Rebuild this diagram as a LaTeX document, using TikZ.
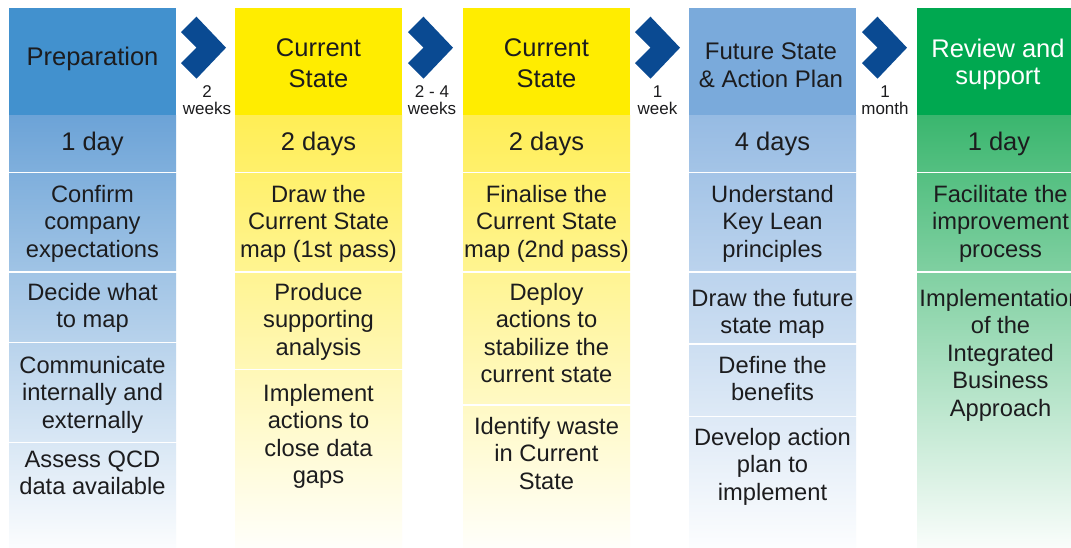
\documentclass[tikz,border=0pt]{standalone}
\usepackage{fontspec}
\setmainfont{Liberation Sans}
\definecolor{hdrblue}{RGB}{66,145,206}
\definecolor{bodyblue}{RGB}{108,163,215}
\definecolor{hdryellow}{RGB}{255,237,0}
\definecolor{bodyyellow}{RGB}{255,238,85}
\definecolor{hdrlblue}{RGB}{122,170,219}
\definecolor{bodylblue}{RGB}{150,187,227}
\definecolor{hdrgreen}{RGB}{0,168,80}
\definecolor{bodygreen}{RGB}{58,182,110}
\definecolor{chevblue}{RGB}{10,74,146}
\definecolor{ink}{RGB}{28,28,30}
% #1 name, #2 left x, #3 top y, #4 bottom y, #5 base colour
\newcommand{\gradcell}[5]{%
  \pgfmathtruncatemacro{\cellmixA}{3+0.225058*(547-#3)}%
  \pgfmathtruncatemacro{\cellmixB}{3+0.225058*(547-#4)}%
  \node[cellbox, minimum height={(#4-#3)*1pt},
        top color=#5!\cellmixA!white, bottom color=#5!\cellmixB!white]
        (#1) at ({#2+83.5},{(#3+#4)/2}) {};%
}
% #1 name, #2 left x, #3 colour
\newcommand{\hdrcell}[3]{%
  \node[cellbox, minimum height=107.5pt, fill=#3] (#1) at ({#2+83.5},61.75) {};%
}
\begin{document}
\begin{tikzpicture}[x=1pt,y=-1pt,
  cellbox/.style={rectangle, inner sep=0pt, outer sep=0pt, minimum width=167pt, draw=none},
  hdrtext/.style={inner sep=0pt, align=center, text=ink, font=\fontsize{25.5}{30.5}\selectfont},
  durtext/.style={inner sep=0pt, text=ink, font=\fontsize{25.5}{30}\selectfont, anchor=base},
  bodytext/.style={inner sep=0pt, align=center, text=ink, font=\fontsize{23.7}{27.5}\selectfont, anchor=north},
  gaptext/.style={inner sep=0pt, align=center, text=ink, font=\fontsize{17}{16.5}\selectfont, anchor=north},
  chev/.pic={\fill[chevblue] (0,-15.5) -- (15.5,-31) -- (45,0) -- (15.5,31) -- (0,15.5) -- (15.5,0) -- cycle;}
]
\useasboundingbox (0,0) rectangle (1071,547);
\fill[white] (0,0) rectangle (1071,547);
\clip (0,0) rectangle (1071,547);

% ---------- headers ----------
\hdrcell{h1}{9}{hdrblue}
\hdrcell{h2}{235}{hdryellow}
\hdrcell{h3}{463}{hdryellow}
\hdrcell{h4}{689}{hdrlblue}
\hdrcell{h5}{917}{hdrgreen}

\node[hdrtext, anchor=base] (ht1) at (92.5,65) {Preparation};
\node[hdrtext, anchor=north] (ht2) at (318.5,38.6) {Current\\State};
\node[hdrtext, anchor=north] (ht3) at (546.5,38.6) {Current\\State};
\node[hdrtext, anchor=north, font=\fontsize{24}{28}\selectfont] (ht4) at (771,42.5) {Future State\\\& Action Plan};
\node[hdrtext, anchor=north, text=white, font=\fontsize{25.5}{27}\selectfont] (ht5) at (998,38.6) {Review and\\support};

% ---------- duration rows ----------
\gradcell{d1}{9}{115.5}{171}{bodyblue}
\gradcell{d2}{235}{115.5}{171}{bodyyellow}
\gradcell{d3}{463}{115.5}{171}{bodyyellow}
\gradcell{d4}{689}{115.5}{171}{bodylblue}
\gradcell{d5}{917}{115.5}{171}{bodygreen}

\node[durtext] (dt1) at (92.5,150) {1 day};
\node[durtext] (dt2) at (318.5,150) {2 days};
\node[durtext] (dt3) at (546.5,150) {2 days};
\node[durtext] (dt4) at (772.5,150) {4 days};
\node[durtext] (dt5) at (999,150) {1 day};

% ---------- column 1 ----------
\gradcell{b11}{9}{173}{270}{bodyblue}
\gradcell{b12}{9}{273}{341}{bodyblue}
\gradcell{b13}{9}{343}{441}{bodyblue}
\gradcell{b14}{9}{443}{547}{bodyblue}
\node[bodytext] (t11) at ([yshift=-11.7pt]b11.north) {Confirm\\company\\expectations};
\node[bodytext] (t12) at ([yshift=-9.7pt]b12.north) {Decide what\\to map};
\node[bodytext] (t13) at ([yshift=-12.7pt]b13.north) {Communicate\\internally and\\externally};
\node[bodytext] (t14) at ([yshift=-7.7pt]b14.north) {Assess QCD\\data available};

% ---------- column 2 ----------
\gradcell{b21}{235}{173}{270}{bodyyellow}
\gradcell{b22}{235}{273}{368}{bodyyellow}
\gradcell{b23}{235}{370}{547}{bodyyellow}
\node[bodytext] (t21) at ([yshift=-11.7pt]b21.north) {Draw the\\Current State\\map (1st pass)};
\node[bodytext] (t22) at ([yshift=-9.7pt]b22.north) {Produce\\supporting\\analysis};
\node[bodytext] (t23) at ([yshift=-13.7pt]b23.north) {Implement\\actions to\\close data\\gaps};

% ---------- column 3 ----------
\gradcell{b31}{463}{173}{270}{bodyyellow}
\gradcell{b32}{463}{273}{403}{bodyyellow}
\gradcell{b33}{463}{406}{547}{bodyyellow}
\node[bodytext] (t31) at ([yshift=-11.7pt]b31.north) {Finalise the\\Current State\\map (2nd pass)};
\node[bodytext] (t32) at ([yshift=-9.7pt]b32.north) {Deploy\\actions to\\stabilize the\\current state};
\node[bodytext] (t33) at ([yshift=-10.7pt]b33.north) {Identify waste\\in Current\\State};

% ---------- column 4 ----------
\gradcell{b41}{689}{173}{270}{bodylblue}
\gradcell{b42}{689}{273}{342}{bodylblue}
\gradcell{b43}{689}{345}{415}{bodylblue}
\gradcell{b44}{689}{417}{547}{bodylblue}
\node[bodytext] (t41) at ([yshift=-11.7pt]b41.north) {Understand\\Key Lean\\principles};
\node[bodytext] (t42) at ([yshift=-15.7pt]b42.north) {Draw the future\\state map};
\node[bodytext] (t43) at ([yshift=-10.7pt]b43.north) {Define the\\benefits};
\node[bodytext] (t44) at ([yshift=-10.7pt]b44.north) {Develop action\\plan to\\implement};

% ---------- column 5 ----------
\gradcell{b51}{917}{173}{270}{bodygreen}
\gradcell{b52}{917}{273}{547}{bodygreen}
\node[bodytext] (t51) at ([yshift=-11.7pt]b51.north) {Facilitate the\\improvement\\process};
\node[bodytext] (t52) at ([yshift=-15.7pt]b52.north) {Implementation\\of the\\Integrated\\Business\\Approach};

% ---------- chevrons and gaps ----------
\pic (c1) at (181,47.7) {chev};
\pic (c2) at (408,47.7) {chev};
\pic (c3) at (635,47.7) {chev};
\pic (c4) at (862,47.7) {chev};
\node[gaptext] (g1) at (207,85.8) {2\\weeks};
\node[gaptext] (g2) at (432,85.8) {2 - 4\\weeks};
\node[gaptext] (g3) at (657.5,85.8) {1\\week};
\node[gaptext] (g4) at (885,85.8) {1\\month};
\end{tikzpicture}
\end{document}
